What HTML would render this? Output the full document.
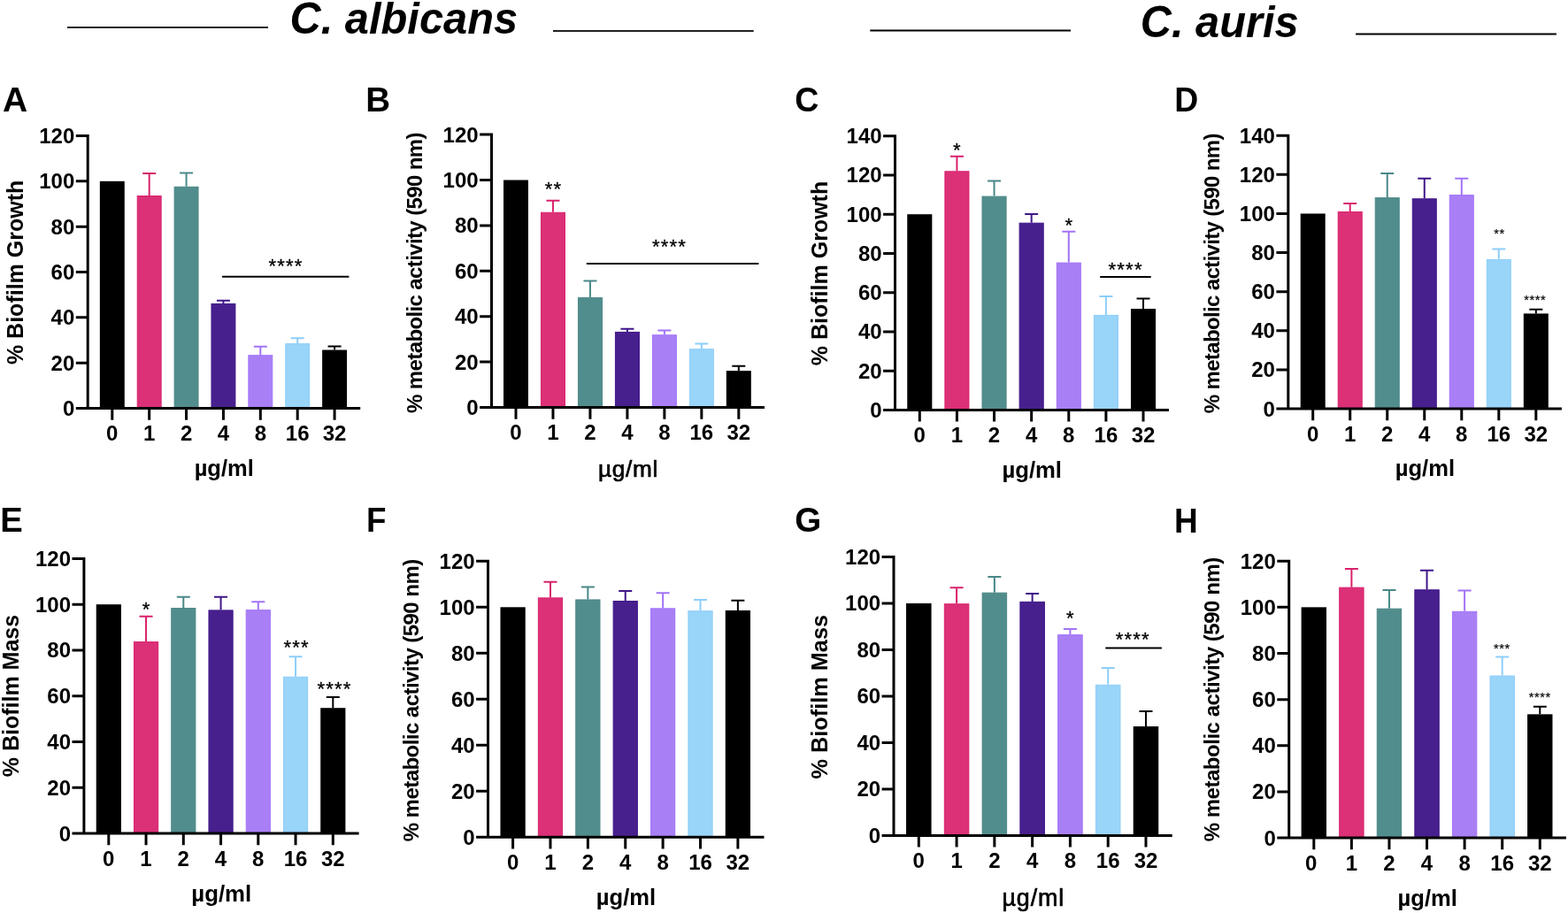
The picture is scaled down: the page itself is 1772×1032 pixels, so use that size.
<!DOCTYPE html>
<html><head><meta charset="utf-8"><title>C. albicans / C. auris biofilm</title>
<style>
html,body{margin:0;padding:0;background:#fff;}
body{width:1772px;height:1032px;overflow:hidden;}
svg{display:block;}
text{font-family:'Liberation Sans', Arial, Helvetica, sans-serif;}
.t{font-weight:bold;font-size:24px;}
.b{font-weight:bold;}
.s{font-weight:normal;stroke:#000;stroke-linejoin:round;}
.m{font-weight:normal;stroke:#000;stroke-width:0.7px;stroke-linejoin:round;}
.h{font-weight:bold;font-style:italic;font-size:50px;}
</style></head><body>
<svg width="1772" height="1032" viewBox="0 0 1772 1032">
<rect width="1772" height="1032" fill="#fff"/>
<path d="M76 31H303" stroke="#262626" stroke-width="2"/>
<path d="M625 35H851.7" stroke="#222" stroke-width="2"/>
<path d="M983.3 34.5H1210" stroke="#000" stroke-width="2"/>
<path d="M1532.1 38.6H1758.9" stroke="#000" stroke-width="2"/>
<text x="327.5" y="38.4" class="h" textLength="257.6" lengthAdjust="spacingAndGlyphs">C. albicans</text>
<text x="1288.8" y="41.7" class="h" textLength="178.9" lengthAdjust="spacingAndGlyphs">C. auris</text>
<rect x="112.84" y="204.83" width="27.92" height="256.67" fill="#000000"/>
<rect x="155.22" y="221.5" width="26.92" height="239.5" fill="#DC3077" stroke="#D8226C" stroke-width="1"/>
<path d="M168.68 221V196.11M161.18 196.11H176.18" stroke="#D8226C" stroke-width="2" fill="none"/>
<rect x="197.1" y="211.24" width="26.92" height="249.76" fill="#528D8D" stroke="#4A8888" stroke-width="1"/>
<path d="M210.56 210.74V195.59M203.06 195.59H218.06" stroke="#4A8888" stroke-width="2" fill="none"/>
<rect x="238.98" y="343.42" width="26.92" height="117.58" fill="#48208E" stroke="#3F1689" stroke-width="1"/>
<path d="M252.44 342.92V339.84M244.94 339.84H259.94" stroke="#3F1689" stroke-width="2" fill="none"/>
<rect x="280.86" y="401.68" width="26.92" height="59.32" fill="#A97FF6" stroke="#A273F7" stroke-width="1"/>
<path d="M294.32 401.18V391.69M286.82 391.69H301.82" stroke="#A273F7" stroke-width="2" fill="none"/>
<rect x="322.74" y="388.59" width="26.92" height="72.41" fill="#99D4F9" stroke="#8DCEFA" stroke-width="1"/>
<path d="M336.2 388.09V382.19M328.7 382.19H343.7" stroke="#8DCEFA" stroke-width="2" fill="none"/>
<rect x="364.12" y="395.54" width="27.92" height="65.96" fill="#000000"/>
<path d="M378.08 395.54V391.43M370.58 391.43H385.58" stroke="#000000" stroke-width="2" fill="none"/>
<path d="M99.2 152V461.5M85.8 461.5H407.2M85.8 461.5H99.2M85.8 410.17H99.2M85.8 358.83H99.2M85.8 307.5H99.2M85.8 256.17H99.2M85.8 204.83H99.2M85.8 153.5H99.2M126.8 461.5V474.7M168.68 461.5V474.7M210.56 461.5V474.7M252.44 461.5V474.7M294.32 461.5V474.7M336.2 461.5V474.7M378.08 461.5V474.7" stroke="#000" stroke-width="3.0" fill="none"/>
<text x="84.3" y="470" text-anchor="end" class="t">0</text>
<text x="84.3" y="418.67" text-anchor="end" class="t">20</text>
<text x="84.3" y="367.33" text-anchor="end" class="t">40</text>
<text x="84.3" y="316" text-anchor="end" class="t">60</text>
<text x="84.3" y="264.67" text-anchor="end" class="t">80</text>
<text x="84.3" y="213.33" text-anchor="end" class="t">100</text>
<text x="84.3" y="162" text-anchor="end" class="t">120</text>
<text x="126.8" y="498.2" text-anchor="middle" class="t">0</text>
<text x="168.68" y="498.2" text-anchor="middle" class="t">1</text>
<text x="210.56" y="498.2" text-anchor="middle" class="t">2</text>
<text x="252.44" y="498.2" text-anchor="middle" class="t">4</text>
<text x="294.32" y="498.2" text-anchor="middle" class="t">8</text>
<text x="336.2" y="498.2" text-anchor="middle" class="t">16</text>
<text x="378.08" y="498.2" text-anchor="middle" class="t">32</text>
<text transform="translate(26.3 307.9) rotate(-90)" text-anchor="middle" class="b" font-size="25">% Biofilm Growth</text>
<text x="253.2" y="537.5" text-anchor="middle" class="b" font-size="25.5">µg/ml</text>
<text x="2.9" y="126.1" class="b" font-size="39" textLength="28.17" lengthAdjust="spacingAndGlyphs">A</text>
<text x="303.4" y="308.39" class="s" font-size="22" letter-spacing="1.2" stroke-width="0.3">****</text>
<path d="M251 312.7H394.4" stroke="#000" stroke-width="2" fill="none"/>
<rect x="569.01" y="203.5" width="27.98" height="257" fill="#000000"/>
<rect x="611.48" y="240.24" width="26.98" height="219.76" fill="#DC3077" stroke="#D8226C" stroke-width="1"/>
<path d="M624.97 239.74V226.63M617.47 226.63H632.47" stroke="#D8226C" stroke-width="2" fill="none"/>
<rect x="653.45" y="336.61" width="26.98" height="123.39" fill="#528D8D" stroke="#4A8888" stroke-width="1"/>
<path d="M666.94 336.11V317.61M659.44 317.61H674.44" stroke="#4A8888" stroke-width="2" fill="none"/>
<rect x="695.42" y="375.42" width="26.98" height="84.58" fill="#48208E" stroke="#3F1689" stroke-width="1"/>
<path d="M708.91 374.92V371.84M701.41 371.84H716.41" stroke="#3F1689" stroke-width="2" fill="none"/>
<rect x="737.39" y="378.76" width="26.98" height="81.24" fill="#A97FF6" stroke="#A273F7" stroke-width="1"/>
<path d="M750.88 378.26V373.38M743.38 373.38H758.38" stroke="#A273F7" stroke-width="2" fill="none"/>
<rect x="779.36" y="394.69" width="26.98" height="65.31" fill="#99D4F9" stroke="#8DCEFA" stroke-width="1"/>
<path d="M792.85 394.19V388.54M785.35 388.54H800.35" stroke="#8DCEFA" stroke-width="2" fill="none"/>
<rect x="820.83" y="419.12" width="27.98" height="41.38" fill="#000000"/>
<path d="M834.82 419.12V413.73M827.32 413.73H842.32" stroke="#000000" stroke-width="2" fill="none"/>
<path d="M555.5 150.6V460.5M542.1 460.5H864M542.1 460.5H555.5M542.1 409.1H555.5M542.1 357.7H555.5M542.1 306.3H555.5M542.1 254.9H555.5M542.1 203.5H555.5M542.1 152.1H555.5M583 460.5V473.7M624.97 460.5V473.7M666.94 460.5V473.7M708.91 460.5V473.7M750.88 460.5V473.7M792.85 460.5V473.7M834.82 460.5V473.7" stroke="#000" stroke-width="3.0" fill="none"/>
<text x="540.6" y="469" text-anchor="end" class="t">0</text>
<text x="540.6" y="417.6" text-anchor="end" class="t">20</text>
<text x="540.6" y="366.2" text-anchor="end" class="t">40</text>
<text x="540.6" y="314.8" text-anchor="end" class="t">60</text>
<text x="540.6" y="263.4" text-anchor="end" class="t">80</text>
<text x="540.6" y="212" text-anchor="end" class="t">100</text>
<text x="540.6" y="160.6" text-anchor="end" class="t">120</text>
<text x="583" y="497.2" text-anchor="middle" class="t">0</text>
<text x="624.97" y="497.2" text-anchor="middle" class="t">1</text>
<text x="666.94" y="497.2" text-anchor="middle" class="t">2</text>
<text x="708.91" y="497.2" text-anchor="middle" class="t">4</text>
<text x="750.88" y="497.2" text-anchor="middle" class="t">8</text>
<text x="792.85" y="497.2" text-anchor="middle" class="t">16</text>
<text x="834.82" y="497.2" text-anchor="middle" class="t">32</text>
<text transform="translate(476.5 308.2) rotate(-90)" text-anchor="middle" class="b" font-size="24" textLength="317.46" lengthAdjust="spacing">% metabolic activity (590 nm)</text>
<text x="710.1" y="538.9" text-anchor="middle" class="m" font-size="26.2" letter-spacing="0.7">µg/ml</text>
<text x="413.13" y="126.1" class="b" font-size="39" textLength="27.89" lengthAdjust="spacingAndGlyphs">B</text>
<text x="615.8" y="220.99" class="s" font-size="22" letter-spacing="1.2" stroke-width="0.3">**</text>
<text x="736.9" y="286.39" class="s" font-size="22" letter-spacing="1.2" stroke-width="0.3">****</text>
<path d="M662.8 298H857.4" stroke="#000" stroke-width="2" fill="none"/>
<rect x="1025.26" y="242.19" width="28.08" height="221.21" fill="#000000"/>
<rect x="1067.88" y="193.8" width="27.08" height="269.1" fill="#DC3077" stroke="#D8226C" stroke-width="1"/>
<path d="M1081.42 193.3V176.71M1073.92 176.71H1088.92" stroke="#D8226C" stroke-width="2" fill="none"/>
<rect x="1110" y="222.11" width="27.08" height="240.79" fill="#528D8D" stroke="#4A8888" stroke-width="1"/>
<path d="M1123.54 221.61V204.58M1116.04 204.58H1131.04" stroke="#4A8888" stroke-width="2" fill="none"/>
<rect x="1152.12" y="252.2" width="27.08" height="210.7" fill="#48208E" stroke="#3F1689" stroke-width="1"/>
<path d="M1165.66 251.7V241.96M1158.16 241.96H1173.16" stroke="#3F1689" stroke-width="2" fill="none"/>
<rect x="1194.24" y="297.1" width="27.08" height="165.8" fill="#A97FF6" stroke="#A273F7" stroke-width="1"/>
<path d="M1207.78 296.6V261.65M1200.28 261.65H1215.28" stroke="#A273F7" stroke-width="2" fill="none"/>
<rect x="1236.36" y="356.39" width="27.08" height="106.51" fill="#99D4F9" stroke="#8DCEFA" stroke-width="1"/>
<path d="M1249.9 355.89V335.1M1242.4 335.1H1257.4" stroke="#8DCEFA" stroke-width="2" fill="none"/>
<rect x="1277.98" y="349.03" width="28.08" height="114.37" fill="#000000"/>
<path d="M1292.02 349.03V337.53M1284.52 337.53H1299.52" stroke="#000000" stroke-width="2" fill="none"/>
<path d="M1011.5 152.2V463.4M998.1 463.4H1320.9M998.1 463.4H1011.5M998.1 419.16H1011.5M998.1 374.91H1011.5M998.1 330.67H1011.5M998.1 286.43H1011.5M998.1 242.19H1011.5M998.1 197.94H1011.5M998.1 153.7H1011.5M1039.3 463.4V476.6M1081.42 463.4V476.6M1123.54 463.4V476.6M1165.66 463.4V476.6M1207.78 463.4V476.6M1249.9 463.4V476.6M1292.02 463.4V476.6" stroke="#000" stroke-width="3.0" fill="none"/>
<text x="996.6" y="471.9" text-anchor="end" class="t">0</text>
<text x="996.6" y="427.66" text-anchor="end" class="t">20</text>
<text x="996.6" y="383.41" text-anchor="end" class="t">40</text>
<text x="996.6" y="339.17" text-anchor="end" class="t">60</text>
<text x="996.6" y="294.93" text-anchor="end" class="t">80</text>
<text x="996.6" y="250.69" text-anchor="end" class="t">100</text>
<text x="996.6" y="206.44" text-anchor="end" class="t">120</text>
<text x="996.6" y="162.2" text-anchor="end" class="t">140</text>
<text x="1039.3" y="500.1" text-anchor="middle" class="t">0</text>
<text x="1081.42" y="500.1" text-anchor="middle" class="t">1</text>
<text x="1123.54" y="500.1" text-anchor="middle" class="t">2</text>
<text x="1165.66" y="500.1" text-anchor="middle" class="t">4</text>
<text x="1207.78" y="500.1" text-anchor="middle" class="t">8</text>
<text x="1249.9" y="500.1" text-anchor="middle" class="t">16</text>
<text x="1292.02" y="500.1" text-anchor="middle" class="t">32</text>
<text transform="translate(935.2 309) rotate(-90)" text-anchor="middle" class="b" font-size="25">% Biofilm Growth</text>
<text x="1166.2" y="539.7" text-anchor="middle" class="b" font-size="25.7">µg/ml</text>
<text x="898.27" y="126.1" class="b" font-size="39" textLength="27.16" lengthAdjust="spacingAndGlyphs">C</text>
<text x="1076.9" y="177.39" class="s" font-size="22" letter-spacing="1.2" stroke-width="0.3">*</text>
<text x="1203.4" y="261.69" class="s" font-size="22" letter-spacing="1.2" stroke-width="0.3">*</text>
<text x="1252.6" y="312.29" class="s" font-size="22" letter-spacing="1.2" stroke-width="0.3">****</text>
<path d="M1243.2 313.1H1300.7" stroke="#000" stroke-width="2" fill="none"/>
<rect x="1469.69" y="241.46" width="28.01" height="220.64" fill="#000000"/>
<rect x="1512.21" y="239.53" width="27.01" height="222.07" fill="#DC3077" stroke="#D8226C" stroke-width="1"/>
<path d="M1525.72 239.03V229.98M1518.22 229.98H1533.22" stroke="#D8226C" stroke-width="2" fill="none"/>
<rect x="1554.23" y="223.64" width="27.01" height="237.96" fill="#528D8D" stroke="#4A8888" stroke-width="1"/>
<path d="M1567.74 223.14V196M1560.24 196H1575.24" stroke="#4A8888" stroke-width="2" fill="none"/>
<rect x="1596.25" y="224.75" width="27.01" height="236.85" fill="#48208E" stroke="#3F1689" stroke-width="1"/>
<path d="M1609.76 224.25V201.74M1602.26 201.74H1617.26" stroke="#3F1689" stroke-width="2" fill="none"/>
<rect x="1638.27" y="220.55" width="27.01" height="241.05" fill="#A97FF6" stroke="#A273F7" stroke-width="1"/>
<path d="M1651.78 220.05V201.74M1644.28 201.74H1659.28" stroke="#A273F7" stroke-width="2" fill="none"/>
<rect x="1680.29" y="293.37" width="27.01" height="168.23" fill="#99D4F9" stroke="#8DCEFA" stroke-width="1"/>
<path d="M1693.8 292.87V281.39M1686.3 281.39H1701.3" stroke="#8DCEFA" stroke-width="2" fill="none"/>
<rect x="1721.81" y="354.43" width="28.01" height="107.67" fill="#000000"/>
<path d="M1735.82 354.43V349.79M1728.32 349.79H1743.32" stroke="#000000" stroke-width="2" fill="none"/>
<path d="M1455.8 151.7V462.1M1442.4 462.1H1764.9M1442.4 462.1H1455.8M1442.4 417.97H1455.8M1442.4 373.84H1455.8M1442.4 329.71H1455.8M1442.4 285.59H1455.8M1442.4 241.46H1455.8M1442.4 197.33H1455.8M1442.4 153.2H1455.8M1483.7 462.1V475.3M1525.72 462.1V475.3M1567.74 462.1V475.3M1609.76 462.1V475.3M1651.78 462.1V475.3M1693.8 462.1V475.3M1735.82 462.1V475.3" stroke="#000" stroke-width="3.0" fill="none"/>
<text x="1440.9" y="470.6" text-anchor="end" class="t">0</text>
<text x="1440.9" y="426.47" text-anchor="end" class="t">20</text>
<text x="1440.9" y="382.34" text-anchor="end" class="t">40</text>
<text x="1440.9" y="338.21" text-anchor="end" class="t">60</text>
<text x="1440.9" y="294.09" text-anchor="end" class="t">80</text>
<text x="1440.9" y="249.96" text-anchor="end" class="t">100</text>
<text x="1440.9" y="205.83" text-anchor="end" class="t">120</text>
<text x="1440.9" y="161.7" text-anchor="end" class="t">140</text>
<text x="1483.7" y="498.8" text-anchor="middle" class="t">0</text>
<text x="1525.72" y="498.8" text-anchor="middle" class="t">1</text>
<text x="1567.74" y="498.8" text-anchor="middle" class="t">2</text>
<text x="1609.76" y="498.8" text-anchor="middle" class="t">4</text>
<text x="1651.78" y="498.8" text-anchor="middle" class="t">8</text>
<text x="1693.8" y="498.8" text-anchor="middle" class="t">16</text>
<text x="1735.82" y="498.8" text-anchor="middle" class="t">32</text>
<text transform="translate(1377.6 308.9) rotate(-90)" text-anchor="middle" class="b" font-size="24" textLength="316.76" lengthAdjust="spacing">% metabolic activity (590 nm)</text>
<text x="1610.35" y="538" text-anchor="middle" class="b" font-size="25.6">µg/ml</text>
<text x="1327.33" y="126.1" class="b" font-size="39" textLength="26.99" lengthAdjust="spacingAndGlyphs">D</text>
<text x="1688.27" y="268.98" class="s" font-size="14.5" letter-spacing="0.56" stroke-width="0.2">**</text>
<text x="1722.37" y="344.18" class="s" font-size="14.5" letter-spacing="0.56" stroke-width="0.2">****</text>
<rect x="108.72" y="683.18" width="28.17" height="258.92" fill="#000000"/>
<rect x="151.47" y="725.63" width="27.17" height="215.97" fill="#DC3077" stroke="#D8226C" stroke-width="1"/>
<path d="M165.05 725.13V696.65M157.55 696.65H172.55" stroke="#D8226C" stroke-width="2" fill="none"/>
<rect x="193.72" y="687.57" width="27.17" height="254.03" fill="#528D8D" stroke="#4A8888" stroke-width="1"/>
<path d="M207.3 687.07V674.64M199.8 674.64H214.8" stroke="#4A8888" stroke-width="2" fill="none"/>
<rect x="235.97" y="689.9" width="27.17" height="251.7" fill="#48208E" stroke="#3F1689" stroke-width="1"/>
<path d="M249.55 689.4V674.64M242.05 674.64H257.05" stroke="#3F1689" stroke-width="2" fill="none"/>
<rect x="278.22" y="689.64" width="27.17" height="251.96" fill="#A97FF6" stroke="#A273F7" stroke-width="1"/>
<path d="M291.8 689.14V680.34M284.3 680.34H299.3" stroke="#A273F7" stroke-width="2" fill="none"/>
<rect x="320.47" y="765.24" width="27.17" height="176.36" fill="#99D4F9" stroke="#8DCEFA" stroke-width="1"/>
<path d="M334.05 764.74V742.22M326.55 742.22H341.55" stroke="#8DCEFA" stroke-width="2" fill="none"/>
<rect x="362.22" y="800.21" width="28.17" height="141.89" fill="#000000"/>
<path d="M376.3 800.21V788.04M368.8 788.04H383.8" stroke="#000000" stroke-width="2" fill="none"/>
<path d="M94.9 629.9V942.1M81.5 942.1H405.6M81.5 942.1H94.9M81.5 890.32H94.9M81.5 838.53H94.9M81.5 786.75H94.9M81.5 734.97H94.9M81.5 683.18H94.9M81.5 631.4H94.9M122.8 942.1V955.3M165.05 942.1V955.3M207.3 942.1V955.3M249.55 942.1V955.3M291.8 942.1V955.3M334.05 942.1V955.3M376.3 942.1V955.3" stroke="#000" stroke-width="3.0" fill="none"/>
<text x="80" y="950.6" text-anchor="end" class="t">0</text>
<text x="80" y="898.82" text-anchor="end" class="t">20</text>
<text x="80" y="847.03" text-anchor="end" class="t">40</text>
<text x="80" y="795.25" text-anchor="end" class="t">60</text>
<text x="80" y="743.47" text-anchor="end" class="t">80</text>
<text x="80" y="691.68" text-anchor="end" class="t">100</text>
<text x="80" y="639.9" text-anchor="end" class="t">120</text>
<text x="122.8" y="978.8" text-anchor="middle" class="t">0</text>
<text x="165.05" y="978.8" text-anchor="middle" class="t">1</text>
<text x="207.3" y="978.8" text-anchor="middle" class="t">2</text>
<text x="249.55" y="978.8" text-anchor="middle" class="t">4</text>
<text x="291.8" y="978.8" text-anchor="middle" class="t">8</text>
<text x="334.05" y="978.8" text-anchor="middle" class="t">16</text>
<text x="376.3" y="978.8" text-anchor="middle" class="t">32</text>
<text transform="translate(21.2 786.6) rotate(-90)" text-anchor="middle" class="b" font-size="25">% Biofilm Mass</text>
<text x="250.25" y="1018.9" text-anchor="middle" class="b" font-size="25.8">µg/ml</text>
<text x="0.16" y="601.3" class="b" font-size="39" textLength="25.5" lengthAdjust="spacingAndGlyphs">E</text>
<text x="160.8" y="696.49" class="s" font-size="22" letter-spacing="1.2" stroke-width="0.3">*</text>
<text x="320.4" y="738.89" class="s" font-size="22" letter-spacing="1.2" stroke-width="0.3">***</text>
<text x="358.4" y="785.69" class="s" font-size="22" letter-spacing="1.2" stroke-width="0.3">****</text>
<rect x="565.47" y="686.3" width="28.25" height="260" fill="#000000"/>
<rect x="608.35" y="675.88" width="27.25" height="269.92" fill="#DC3077" stroke="#D8226C" stroke-width="1"/>
<path d="M621.98 675.38V657.7M614.48 657.7H629.48" stroke="#D8226C" stroke-width="2" fill="none"/>
<rect x="650.73" y="677.96" width="27.25" height="267.84" fill="#528D8D" stroke="#4A8888" stroke-width="1"/>
<path d="M664.36 677.46V663.42M656.86 663.42H671.86" stroke="#4A8888" stroke-width="2" fill="none"/>
<rect x="693.11" y="679.52" width="27.25" height="266.28" fill="#48208E" stroke="#3F1689" stroke-width="1"/>
<path d="M706.74 679.02V668.1M699.24 668.1H714.24" stroke="#3F1689" stroke-width="2" fill="none"/>
<rect x="735.49" y="687.84" width="27.25" height="257.96" fill="#A97FF6" stroke="#A273F7" stroke-width="1"/>
<path d="M749.12 687.34V670.18M741.62 670.18H756.62" stroke="#A273F7" stroke-width="2" fill="none"/>
<rect x="777.87" y="690.7" width="27.25" height="255.1" fill="#99D4F9" stroke="#8DCEFA" stroke-width="1"/>
<path d="M791.5 690.2V677.98M784 677.98H799" stroke="#8DCEFA" stroke-width="2" fill="none"/>
<rect x="819.75" y="689.94" width="28.25" height="256.36" fill="#000000"/>
<path d="M833.88 689.94V678.76M826.38 678.76H841.38" stroke="#000000" stroke-width="2" fill="none"/>
<path d="M551.5 632.8V946.3M538.1 946.3H863.5M538.1 946.3H551.5M538.1 894.3H551.5M538.1 842.3H551.5M538.1 790.3H551.5M538.1 738.3H551.5M538.1 686.3H551.5M538.1 634.3H551.5M579.6 946.3V959.5M621.98 946.3V959.5M664.36 946.3V959.5M706.74 946.3V959.5M749.12 946.3V959.5M791.5 946.3V959.5M833.88 946.3V959.5" stroke="#000" stroke-width="3.0" fill="none"/>
<text x="536.6" y="954.8" text-anchor="end" class="t">0</text>
<text x="536.6" y="902.8" text-anchor="end" class="t">20</text>
<text x="536.6" y="850.8" text-anchor="end" class="t">40</text>
<text x="536.6" y="798.8" text-anchor="end" class="t">60</text>
<text x="536.6" y="746.8" text-anchor="end" class="t">80</text>
<text x="536.6" y="694.8" text-anchor="end" class="t">100</text>
<text x="536.6" y="642.8" text-anchor="end" class="t">120</text>
<text x="579.6" y="983" text-anchor="middle" class="t">0</text>
<text x="621.98" y="983" text-anchor="middle" class="t">1</text>
<text x="664.36" y="983" text-anchor="middle" class="t">2</text>
<text x="706.74" y="983" text-anchor="middle" class="t">4</text>
<text x="749.12" y="983" text-anchor="middle" class="t">8</text>
<text x="791.5" y="983" text-anchor="middle" class="t">16</text>
<text x="833.88" y="983" text-anchor="middle" class="t">32</text>
<text transform="translate(473.2 791.55) rotate(-90)" text-anchor="middle" class="b" font-size="24" textLength="319.54" lengthAdjust="spacing">% metabolic activity (590 nm)</text>
<text x="707.5" y="1022.7" text-anchor="middle" class="b" font-size="25.6">µg/ml</text>
<text x="414.07" y="601.3" class="b" font-size="39" textLength="22.45" lengthAdjust="spacingAndGlyphs">F</text>
<rect x="1024.04" y="681.98" width="28.52" height="262.42" fill="#000000"/>
<rect x="1067.32" y="682.75" width="27.52" height="261.15" fill="#DC3077" stroke="#D8226C" stroke-width="1"/>
<path d="M1081.08 682.25V664.14M1073.58 664.14H1088.58" stroke="#D8226C" stroke-width="2" fill="none"/>
<rect x="1110.1" y="670.15" width="27.52" height="273.75" fill="#528D8D" stroke="#4A8888" stroke-width="1"/>
<path d="M1123.86 669.65V652.07M1116.36 652.07H1131.36" stroke="#4A8888" stroke-width="2" fill="none"/>
<rect x="1152.88" y="680.38" width="27.52" height="263.52" fill="#48208E" stroke="#3F1689" stroke-width="1"/>
<path d="M1166.64 679.88V670.96M1159.14 670.96H1174.14" stroke="#3F1689" stroke-width="2" fill="none"/>
<rect x="1195.66" y="717.65" width="27.52" height="226.25" fill="#A97FF6" stroke="#A273F7" stroke-width="1"/>
<path d="M1209.42 717.15V711.11M1201.92 711.11H1216.92" stroke="#A273F7" stroke-width="2" fill="none"/>
<rect x="1238.44" y="774.33" width="27.52" height="169.57" fill="#99D4F9" stroke="#8DCEFA" stroke-width="1"/>
<path d="M1252.2 773.83V754.94M1244.7 754.94H1259.7" stroke="#8DCEFA" stroke-width="2" fill="none"/>
<rect x="1280.72" y="821.06" width="28.52" height="123.34" fill="#000000"/>
<path d="M1294.98 821.06V804.01M1287.48 804.01H1302.48" stroke="#000000" stroke-width="2" fill="none"/>
<path d="M1010 628V944.4M996.6 944.4H1324.7M996.6 944.4H1010M996.6 891.92H1010M996.6 839.43H1010M996.6 786.95H1010M996.6 734.47H1010M996.6 681.98H1010M996.6 629.5H1010M1038.3 944.4V957.6M1081.08 944.4V957.6M1123.86 944.4V957.6M1166.64 944.4V957.6M1209.42 944.4V957.6M1252.2 944.4V957.6M1294.98 944.4V957.6" stroke="#000" stroke-width="3.0" fill="none"/>
<text x="995.1" y="952.9" text-anchor="end" class="t">0</text>
<text x="995.1" y="900.42" text-anchor="end" class="t">20</text>
<text x="995.1" y="847.93" text-anchor="end" class="t">40</text>
<text x="995.1" y="795.45" text-anchor="end" class="t">60</text>
<text x="995.1" y="742.97" text-anchor="end" class="t">80</text>
<text x="995.1" y="690.48" text-anchor="end" class="t">100</text>
<text x="995.1" y="638" text-anchor="end" class="t">120</text>
<text x="1038.3" y="981.1" text-anchor="middle" class="t">0</text>
<text x="1081.08" y="981.1" text-anchor="middle" class="t">1</text>
<text x="1123.86" y="981.1" text-anchor="middle" class="t">2</text>
<text x="1166.64" y="981.1" text-anchor="middle" class="t">4</text>
<text x="1209.42" y="981.1" text-anchor="middle" class="t">8</text>
<text x="1252.2" y="981.1" text-anchor="middle" class="t">16</text>
<text x="1294.98" y="981.1" text-anchor="middle" class="t">32</text>
<text transform="translate(934.8 787.75) rotate(-90)" text-anchor="middle" class="b" font-size="25.3">% Biofilm Mass</text>
<text x="1167.8" y="1023.9" text-anchor="middle" class="m" font-size="26.8" letter-spacing="0.9">µg/ml</text>
<text x="898.22" y="601.3" class="b" font-size="39" textLength="29.97" lengthAdjust="spacingAndGlyphs">G</text>
<text x="1204.9" y="706.19" class="s" font-size="22" letter-spacing="1.2" stroke-width="0.3">*</text>
<text x="1260.7" y="730.29" class="s" font-size="22" letter-spacing="1.2" stroke-width="0.3">****</text>
<path d="M1249.3 732.4H1312.9" stroke="#000" stroke-width="2" fill="none"/>
<rect x="1470.61" y="686.35" width="28.39" height="260.75" fill="#000000"/>
<rect x="1513.69" y="664.16" width="27.39" height="282.44" fill="#DC3077" stroke="#D8226C" stroke-width="1"/>
<path d="M1527.38 663.66V643.07M1519.88 643.07H1534.88" stroke="#D8226C" stroke-width="2" fill="none"/>
<rect x="1556.27" y="688.15" width="27.39" height="258.45" fill="#528D8D" stroke="#4A8888" stroke-width="1"/>
<path d="M1569.96 687.65V667.05M1562.46 667.05H1577.46" stroke="#4A8888" stroke-width="2" fill="none"/>
<rect x="1598.85" y="666.77" width="27.39" height="279.83" fill="#48208E" stroke="#3F1689" stroke-width="1"/>
<path d="M1612.54 666.27V644.63M1605.04 644.63H1620.04" stroke="#3F1689" stroke-width="2" fill="none"/>
<rect x="1641.43" y="691.28" width="27.39" height="255.32" fill="#A97FF6" stroke="#A273F7" stroke-width="1"/>
<path d="M1655.12 690.78V667.58M1647.62 667.58H1662.62" stroke="#A273F7" stroke-width="2" fill="none"/>
<rect x="1684.01" y="764.03" width="27.39" height="182.57" fill="#99D4F9" stroke="#8DCEFA" stroke-width="1"/>
<path d="M1697.7 763.53V742.41M1690.2 742.41H1705.2" stroke="#8DCEFA" stroke-width="2" fill="none"/>
<rect x="1726.09" y="807.34" width="28.39" height="139.76" fill="#000000"/>
<path d="M1740.28 807.34V798.73M1732.78 798.73H1747.78" stroke="#000000" stroke-width="2" fill="none"/>
<path d="M1456.7 632.7V947.1M1443.3 947.1H1769.9M1443.3 947.1H1456.7M1443.3 894.95H1456.7M1443.3 842.8H1456.7M1443.3 790.65H1456.7M1443.3 738.5H1456.7M1443.3 686.35H1456.7M1443.3 634.2H1456.7M1484.8 947.1V960.3M1527.38 947.1V960.3M1569.96 947.1V960.3M1612.54 947.1V960.3M1655.12 947.1V960.3M1697.7 947.1V960.3M1740.28 947.1V960.3" stroke="#000" stroke-width="3.0" fill="none"/>
<text x="1441.8" y="955.6" text-anchor="end" class="t">0</text>
<text x="1441.8" y="903.45" text-anchor="end" class="t">20</text>
<text x="1441.8" y="851.3" text-anchor="end" class="t">40</text>
<text x="1441.8" y="799.15" text-anchor="end" class="t">60</text>
<text x="1441.8" y="747" text-anchor="end" class="t">80</text>
<text x="1441.8" y="694.85" text-anchor="end" class="t">100</text>
<text x="1441.8" y="642.7" text-anchor="end" class="t">120</text>
<text x="1481.8" y="983.8" text-anchor="middle" class="t">0</text>
<text x="1527.38" y="983.8" text-anchor="middle" class="t">1</text>
<text x="1569.96" y="983.8" text-anchor="middle" class="t">2</text>
<text x="1612.54" y="983.8" text-anchor="middle" class="t">4</text>
<text x="1655.12" y="983.8" text-anchor="middle" class="t">8</text>
<text x="1697.7" y="983.8" text-anchor="middle" class="t">16</text>
<text x="1740.28" y="983.8" text-anchor="middle" class="t">32</text>
<text transform="translate(1377.9 790.55) rotate(-90)" text-anchor="middle" class="b" font-size="24" textLength="321.62" lengthAdjust="spacing">% metabolic activity (590 nm)</text>
<text x="1613.3" y="1023.8" text-anchor="middle" class="b" font-size="25.6">µg/ml</text>
<text x="1327.06" y="601.8" class="b" font-size="39" textLength="26.71" lengthAdjust="spacingAndGlyphs">H</text>
<text x="1688.07" y="737.68" class="s" font-size="14.5" letter-spacing="0.56" stroke-width="0.2">***</text>
<text x="1727.87" y="793.48" class="s" font-size="14.5" letter-spacing="0.56" stroke-width="0.2">****</text>
</svg>
</body></html>
